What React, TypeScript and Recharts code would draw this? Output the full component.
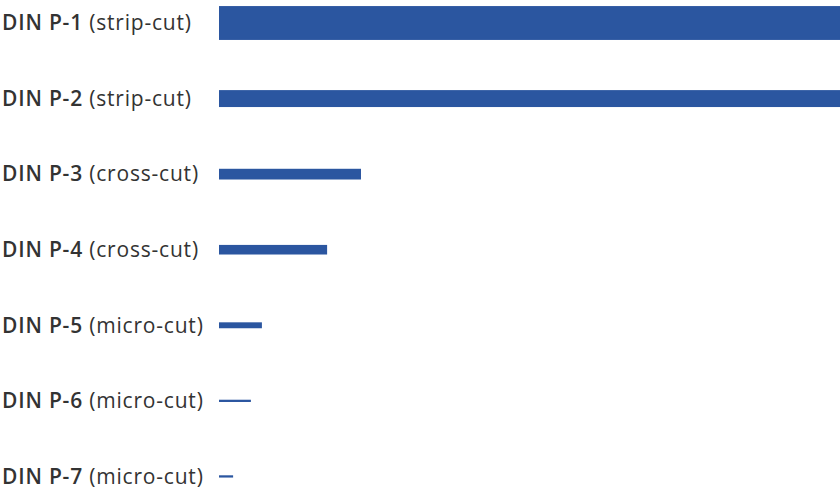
import React from "react";
import { BarChart, Bar, XAxis, YAxis } from "recharts";

const levels = ["DIN P-1", "DIN P-2", "DIN P-3", "DIN P-4", "DIN P-5", "DIN P-6", "DIN P-7"];
const cutTypes = ["(strip-cut)", "(strip-cut)", "(cross-cut)", "(cross-cut)", "(micro-cut)", "(micro-cut)", "(micro-cut)"];
// particle length (mm) and particle width (mm)
const particleLength = [297, 297, 50.3, 38.3, 15.2, 11.3, 5.0];
const particleWidth = [12, 6, 3.8, 3.4, 2.1, 0.8, 0.8];

const data = levels.map((lvl, i) => ({
  name: lvl,
  cut: cutTypes[i],
  length: particleLength[i],
  thickness: particleWidth[i],
}));

const COLOR = "#2b56a0";

const ParticleShape = (props: any) => {
  const { x, y, width, height, payload } = props;
  const pxPerUnit = width / payload.length;
  const t = payload.thickness * pxPerUnit;
  const cy = y + height / 2;
  return <rect x={x} y={cy - t / 2} width={width} height={t} fill={COLOR} />;
};

const LabelTick = (props: any) => {
  const { y, payload, index } = props;
  const item = data[index] ?? data.find((d) => d.name === payload.value);
  return (
    <text
      x={2}
      y={y + 7.5}
      textAnchor="start"
      style={{ fontFamily: "'Open Sans', sans-serif", fontSize: 21, letterSpacing: 0.8 }}
      fill="#333"
    >
      <tspan fontWeight={600}>{payload.value}</tspan>
      <tspan fontWeight={400}>{" " + (item ? item.cut : "")}</tspan>
    </text>
  );
};

export default function App() {
  return (
    <div style={{ position: "absolute", left: 0, top: 0, width: 840, height: 494, overflow: "hidden", background: "#fff" }}>
      <div style={{ marginTop: -15 }}>
        <BarChart
          width={840}
          height={529}
          data={data}
          layout="vertical"
          margin={{ top: 0, right: 0, bottom: 0, left: 0 }}
          barCategoryGap={0}
        >
          <XAxis type="number" hide domain={[0, 220]} allowDataOverflow />
          <YAxis
            type="category"
            dataKey="name"
            width={219}
            axisLine={false}
            tickLine={false}
            tick={<LabelTick />}
            interval={0}
          />
          <Bar dataKey="length" fill={COLOR} shape={<ParticleShape />} isAnimationActive={false} />
        </BarChart>
      </div>
    </div>
  );
}
